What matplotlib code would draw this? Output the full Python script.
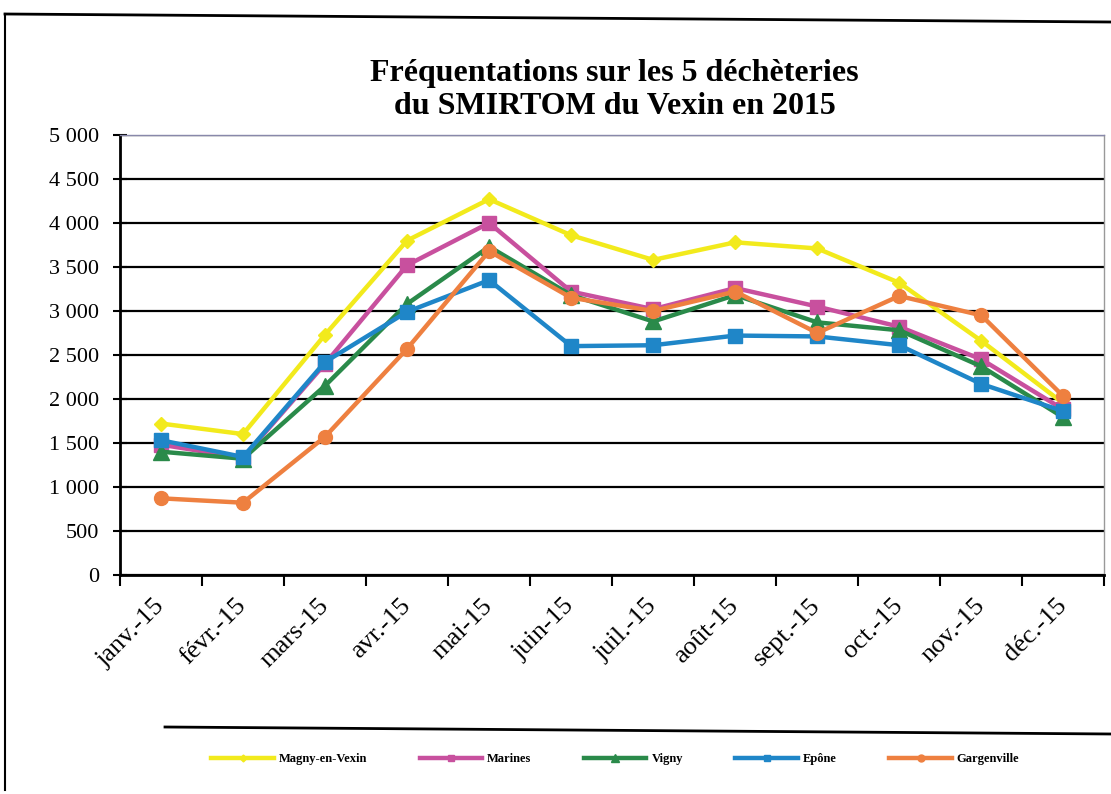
import numpy as np
import matplotlib
matplotlib.use("Agg")
import matplotlib.pyplot as plt
from matplotlib.lines import Line2D

months = ["janv.-15", "févr.-15", "mars-15", "avr.-15", "mai-15", "juin-15",
          "juil.-15", "août-15", "sept.-15", "oct.-15", "nov.-15", "déc.-15"]
magny = [1720, 1600, 2730, 3800, 4270, 3860, 3580, 3780, 3710, 3320, 2660, 1950]
marines = [1480, 1330, 2400, 3520, 4000, 3220, 3020, 3260, 3050, 2820, 2450, 1880]
vigny = [1400, 1320, 2150, 3080, 3730, 3180, 2880, 3180, 2870, 2780, 2370, 1790]
epone = [1530, 1340, 2420, 2990, 3350, 2600, 2610, 2720, 2710, 2610, 2170, 1860]
gargenville = [870, 820, 1570, 2570, 3680, 3150, 3000, 3220, 2750, 3170, 2950, 2030]
yticks = [0, 500, 1000, 1500, 2000, 2500, 3000, 3500, 4000, 4500, 5000]
ytick_labels = ["0", "500", "1 000", "1 500", "2 000", "2 500", "3 000",
                "3 500", "4 000", "4 500", "5 000"]

serif = ["Liberation Serif", "DejaVu Serif"]
plt.rcParams["font.family"] = serif

fig = plt.figure(figsize=(11.11, 7.94), dpi=100)
ax = fig.add_axes([0.108, 0.276, 0.886, 0.554])

x = np.arange(len(months))
series = [
    ("Magny-en-Vexin", magny, "#f2ea1c", "D", 7),
    ("Marines", marines, "#c8509e", "s", 10),
    ("Vigny", vigny, "#2a8a4a", "^", 11),
    ("Epône", epone, "#1f86c8", "s", 10),
    ("Gargenville", gargenville, "#ee8040", "o", 10),
]
for name, vals, col, mk, ms in series:
    ax.plot(x, vals, color=col, lw=3.2, marker=mk, markersize=ms,
            markerfacecolor=col, markeredgecolor=col, label=name, zorder=3)

ax.set_xlim(-0.5, len(months) - 0.5)
ax.set_ylim(0, 5000)
ax.set_yticks(yticks)
ax.set_yticklabels(ytick_labels, fontsize=16)
ax.yaxis.grid(True, color="black", lw=1.6)
ax.set_axisbelow(True)
ax.tick_params(axis="y", direction="inout", length=10, width=1.5, pad=10)

ax.set_xticks(np.arange(-0.5, len(months), 1.0))
ax.set_xticklabels([])
ax.set_xticks(x, minor=True)
ax.set_xticklabels(months, minor=True, rotation=45, ha="right", va="center",
                   rotation_mode="anchor", fontsize=19)
ax.tick_params(axis="x", which="major", direction="out", length=8, width=1.5)
ax.tick_params(axis="x", which="minor", length=0, pad=20)

for s in ["left", "bottom"]:
    ax.spines[s].set_linewidth(2)
    ax.spines[s].set_color("black")
ax.spines["right"].set_color("#999999")
ax.spines["right"].set_linewidth(1)
ax.spines["top"].set_color("#8888aa")
ax.spines["top"].set_linewidth(1)

fig.text(0.553, 1 - 90 / 794, "Fréquentations sur les 5 déchèteries\ndu SMIRTOM du Vexin en 2015",
         ha="center", va="center", fontsize=23, fontweight="bold",
         linespacing=1.2, family=serif)

leg = fig.legend(loc="center left", bbox_to_anchor=(200 / 1111, 1 - 759 / 794),
                 ncol=5, fontsize=9, frameon=False, handlelength=5,
                 columnspacing=4.2, handletextpad=0.4, markerscale=0.5)
for t in leg.get_texts():
    t.set_fontweight("bold")

# scanned page frame
fig.add_artist(Line2D([5 / 1111, 1], [1 - 14 / 794, 1 - 22 / 794],
                      transform=fig.transFigure, color="black", lw=2))
fig.add_artist(Line2D([5 / 1111, 5 / 1111], [1 - 14 / 794, 1 - 790 / 794],
                      transform=fig.transFigure, color="black", lw=1.5))
fig.add_artist(Line2D([165 / 1111, 1], [1 - 727 / 794, 1 - 734 / 794],
                      transform=fig.transFigure, color="black", lw=2))

fig.savefig("out.png", dpi=100)
